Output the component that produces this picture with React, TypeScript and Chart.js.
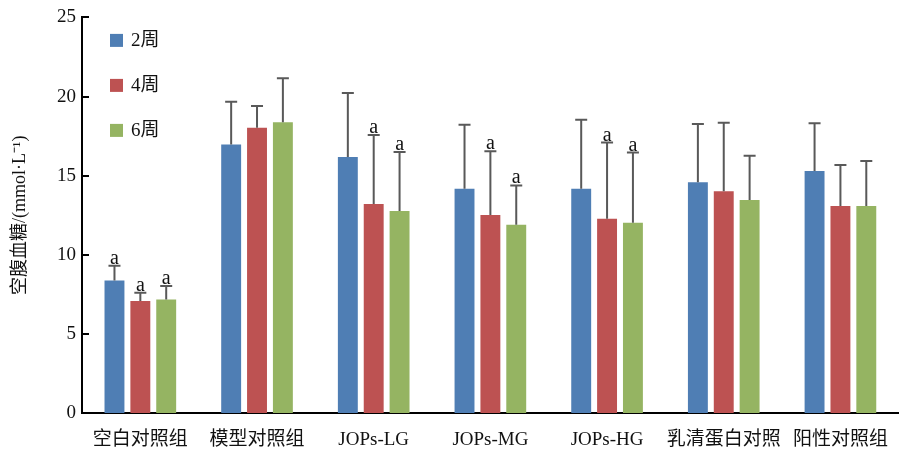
import { useEffect, useRef } from "react";
import { Chart, registerables } from "chart.js";

Chart.register(...registerables);

const categories = ["空白对照组", "模型对照组", "JOPs-LG", "JOPs-MG", "JOPs-HG", "乳清蛋白对照", "阳性对照组"];
const seriesNames = ["2周", "4周", "6周"];
const seriesColors = ["#4F7EB4", "#BD5252", "#95B462"];

const week2Mean = [8.37, 16.96, 16.18, 14.17, 14.17, 14.59, 15.3];
const week2Sd = [0.93, 2.71, 4.05, 4.05, 4.36, 3.67, 3.01];
const week2Sig = ["a", "", "", "", "", "", ""];

const week4Mean = [7.07, 18.03, 13.2, 12.51, 12.28, 14.02, 13.08];
const week4Sd = [0.53, 1.37, 4.37, 4.03, 4.81, 4.33, 2.6];
const week4Sig = ["a", "", "a", "a", "a", "", ""];

const week6Mean = [7.18, 18.37, 12.76, 11.9, 12.03, 13.46, 13.08];
const week6Sd = [0.84, 2.79, 3.74, 2.48, 4.43, 2.79, 2.85];
const week6Sig = ["a", "", "a", "a", "a", "", ""];

const yMin = 0;
const yMax = 25;
const yStep = 5;
const yTitle = "空腹血糖/(mmol·L⁻¹)";

const FONT = '"Liberation Serif", "Times New Roman", "Noto Sans CJK SC", serif';

const errorBarPlugin = {
  id: "errorBars",
  afterDatasetsDraw(chart: any) {
    const ctx = chart.ctx;
    const y = chart.scales.y;
    chart.data.datasets.forEach((ds: any, i: number) => {
      const meta = chart.getDatasetMeta(i);
      meta.data.forEach((bar: any, j: number) => {
        const top = ds.data[j] + ds.sd[j];
        const yTop = y.getPixelForValue(top);
        ctx.save();
        ctx.strokeStyle = "#595959";
        ctx.lineWidth = 2;
        ctx.beginPath();
        ctx.moveTo(bar.x, bar.y);
        ctx.lineTo(bar.x, yTop);
        ctx.moveTo(bar.x - 6, yTop);
        ctx.lineTo(bar.x + 6, yTop);
        ctx.stroke();
        if (ds.sig[j]) {
          ctx.fillStyle = "#111";
          ctx.font = "20px " + FONT;
          ctx.textAlign = "center";
          ctx.textBaseline = "alphabetic";
          ctx.fillText(ds.sig[j], bar.x, yTop - 2);
        }
        ctx.restore();
      });
    });
  },
};

const innerTicksPlugin = {
  id: "innerTicks",
  afterDraw(chart: any) {
    const ctx = chart.ctx;
    const y = chart.scales.y;
    const left = chart.chartArea.left;
    ctx.save();
    ctx.strokeStyle = "#000";
    ctx.lineWidth = 2;
    y.ticks.forEach((t: any) => {
      const py = Math.round(y.getPixelForValue(t.value));
      ctx.beginPath();
      ctx.moveTo(left, py);
      ctx.lineTo(left + 7, py);
      ctx.stroke();
    });
    ctx.restore();
  },
};

const legendPlugin = {
  id: "innerLegend",
  afterDraw(chart: any) {
    const ctx = chart.ctx;
    const { left, top } = chart.chartArea;
    ctx.save();
    chart.data.datasets.forEach((ds: any, i: number) => {
      const cy = top + 23 + i * 45;
      ctx.fillStyle = ds.backgroundColor;
      ctx.fillRect(left + 28, cy - 6.5, 13, 13);
      ctx.fillStyle = "#111";
      ctx.font = "19px " + FONT;
      ctx.textAlign = "left";
      ctx.textBaseline = "middle";
      ctx.fillText(ds.label, left + 49, cy + 1);
    });
    ctx.restore();
  },
};

export default function App() {
  const ref = useRef<HTMLCanvasElement | null>(null);

  useEffect(() => {
    if (!ref.current) return;
    const means = [week2Mean, week4Mean, week6Mean];
    const sds = [week2Sd, week4Sd, week6Sd];
    const sigs = [week2Sig, week4Sig, week6Sig];
    const chart = new Chart(ref.current, {
      type: "bar",
      data: {
        labels: categories,
        datasets: seriesNames.map((name, i) => ({
          label: name,
          data: means[i],
          sd: sds[i],
          sig: sigs[i],
          backgroundColor: seriesColors[i],
          borderWidth: 0,
          categoryPercentage: 0.665,
          barPercentage: 0.77,
        })) as any,
      },
      options: {
        animation: false,
        responsive: true,
        maintainAspectRatio: false,
        layout: { padding: { top: 16, right: 1, left: 0, bottom: 0 } },
        plugins: {
          legend: { display: false },
          tooltip: { enabled: false },
        },
        scales: {
          x: {
            grid: { display: false, drawTicks: false },
            border: { display: true, color: "#000", width: 2 },
            ticks: {
              color: "#111",
              font: { family: FONT, size: 19 },
              padding: 16,
              maxRotation: 0,
              autoSkip: false,
            },
            afterFit: (s: any) => {
              s.height = 41;
            },
          },
          y: {
            min: yMin,
            max: yMax,
            grid: { display: false, drawTicks: false },
            border: { display: true, color: "#000", width: 2 },
            ticks: {
              stepSize: yStep,
              color: "#111",
              font: { family: FONT, size: 19 },
              padding: 6,
            },
            title: {
              display: true,
              text: yTitle,
              color: "#111",
              font: { family: FONT, size: 18 },
              padding: { top: 9, bottom: 0 },
            },
            afterFit: (s: any) => {
              s.width = 82;
            },
          },
        },
      },
      plugins: [errorBarPlugin, innerTicksPlugin, legendPlugin],
    });
    return () => chart.destroy();
  }, []);

  return (
    <div style={{ position: "absolute", left: 0, top: 0, width: 901, height: 454, overflow: "hidden", background: "#fff" }}>
      <div style={{ position: "relative", width: 904, height: 454 }}>
        <canvas ref={ref} />
      </div>
    </div>
  );
}
